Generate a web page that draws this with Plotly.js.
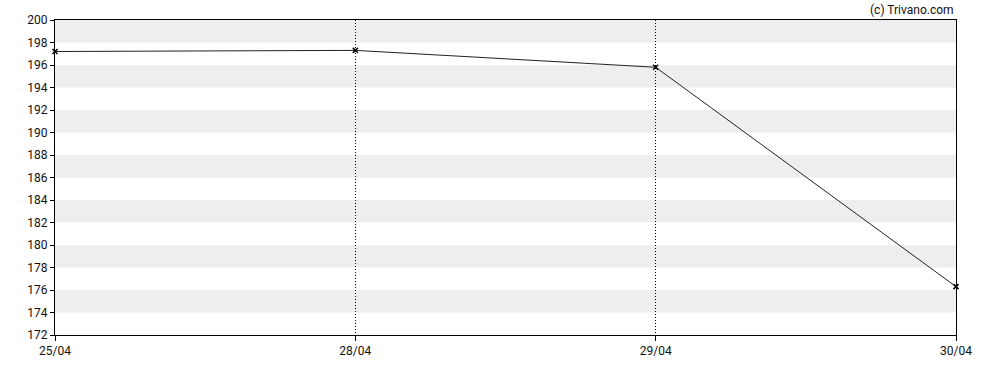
<!DOCTYPE html>
<html>
<head>
<meta charset="utf-8">
<script src="https://cdn.plot.ly/plotly-3.0.1.min.js"></script>
<style>html,body{margin:0;padding:0;background:#fff;}#chart{width:988px;height:370px;}</style>
</head>
<body>
<div id="chart"></div>
<script>
const dates = ["25/04", "28/04", "29/04", "30/04"];
const prices = [197.2, 197.3, 195.8, 176.3];
const yTicks = [172, 174, 176, 178, 180, 182, 184, 186, 188, 190, 192, 194, 196, 198, 200];
const bandStarts = [174, 178, 182, 186, 190, 194, 198];
const bandWidth = 2;

const xIdx = dates.map((d, i) => i);

const shapes = bandStarts.map(b => ({
  type: 'rect', xref: 'paper', yref: 'y', x0: 0, x1: 1, y0: b, y1: b + bandWidth,
  fillcolor: '#eeeeee', line: {width: 0}, layer: 'below'
}));

const trace = {
  x: xIdx, y: prices, type: 'scatter', mode: 'lines+markers',
  line: {color: '#222222', width: 1},
  marker: {symbol: 'x-thin', size: 5, color: '#000', line: {width: 1.5, color: '#000'}},
  cliponaxis: false,
  hoverinfo: 'skip'
};

const layout = {
  width: 988, height: 370,
  margin: {l: 55, r: 32, t: 20, b: 35},
  paper_bgcolor: '#fff', plot_bgcolor: '#fff',
  showlegend: false,
  font: {family: 'Roboto, sans-serif', size: 12, color: '#111'},
  shapes: shapes,
  xaxis: {
    range: [0, dates.length - 1], tickvals: xIdx, ticktext: dates,
    showgrid: true, gridcolor: '#000', griddash: '1px,2px', gridwidth: 1,
    showline: true, linecolor: '#000', linewidth: 1, mirror: true,
    ticks: 'outside', ticklen: 5, tickcolor: '#000', zeroline: false, fixedrange: true
  },
  yaxis: {
    range: [172, 200], tickvals: yTicks, showgrid: false,
    showline: true, linecolor: '#000', linewidth: 1, mirror: true,
    ticks: 'outside', ticklen: 4, tickcolor: '#000', zeroline: false, fixedrange: true
  },
  annotations: [{
    text: '(c) Trivano.com', xref: 'paper', yref: 'paper', x: 1, y: 1, xanchor: 'right', yanchor: 'bottom',
    yshift: 1, showarrow: false, font: {family: 'Roboto, sans-serif', size: 12, color: '#111'}
  }]
};

Plotly.newPlot('chart', [trace], layout, {staticPlot: true, displayModeBar: false});
</script>
</body>
</html>
